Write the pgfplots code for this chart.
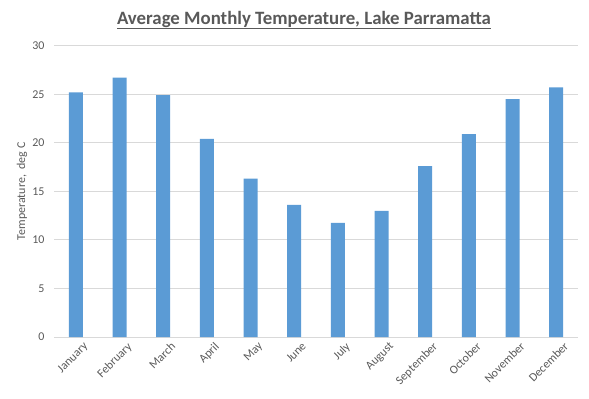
\documentclass[border=0pt]{standalone}
\usepackage{pgfplots}
\pgfplotsset{compat=1.18}
\usepackage{fontspec}
\setmainfont{Carlito}
\definecolor{barblue}{HTML}{5B9BD5}
\definecolor{txtgray}{HTML}{595959}
\definecolor{gridgray}{HTML}{D9D9D9}
\begin{document}
\begin{tikzpicture}[x=1bp,y=1bp]
\path (0,0) rectangle (589,398);
\node[text=txtgray,font=\fontsize{18.9}{22}\selectfont\bfseries] at (304,378) {\underline{Average Monthly Temperature, Lake Parramatta}};
\begin{axis}[
  at={(54bp,61bp)}, anchor=south west,
  scale only axis,
  width=524bp, height=291.3bp,
  ymin=0, ymax=30, ytick={0,5,...,30},
  xmin=-0.5, xmax=11.5,
  xtick={0,...,11},
  xticklabels={January,February,March,April,May,June,July,August,September,October,November,December},
  x tick label style={rotate=45, anchor=north east, inner sep=1bp, xshift=3bp, yshift=-7bp},
  ymajorgrids, grid style={gridgray, line width=0.9bp},
  axis x line*=bottom, axis y line*=left,
  x axis line style={gridgray, line width=0.9bp, -},
  y axis line style={draw=none},
  major tick length=0pt,
  ticklabel style={text=txtgray, font=\fontsize{12}{14}\selectfont},
  /pgf/number format/assume math mode=true,
  yticklabel style={anchor=east, xshift=-6bp},
  ylabel={Temperature,~ deg C},
  every axis y label/.style={at={(-32bp,145.6bp)}, rotate=90, anchor=center, text=txtgray, font=\fontsize{12}{14}\selectfont},
  clip=false,
]
\addplot[ybar, bar width=14bp, fill=barblue, draw=none] coordinates {
(0,25.2) (1,26.7) (2,24.9) (3,20.4) (4,16.3) (5,13.6)
(6,11.75) (7,13.0) (8,17.6) (9,20.9) (10,24.5) (11,25.7)
};
\end{axis}
\end{tikzpicture}
\end{document}
